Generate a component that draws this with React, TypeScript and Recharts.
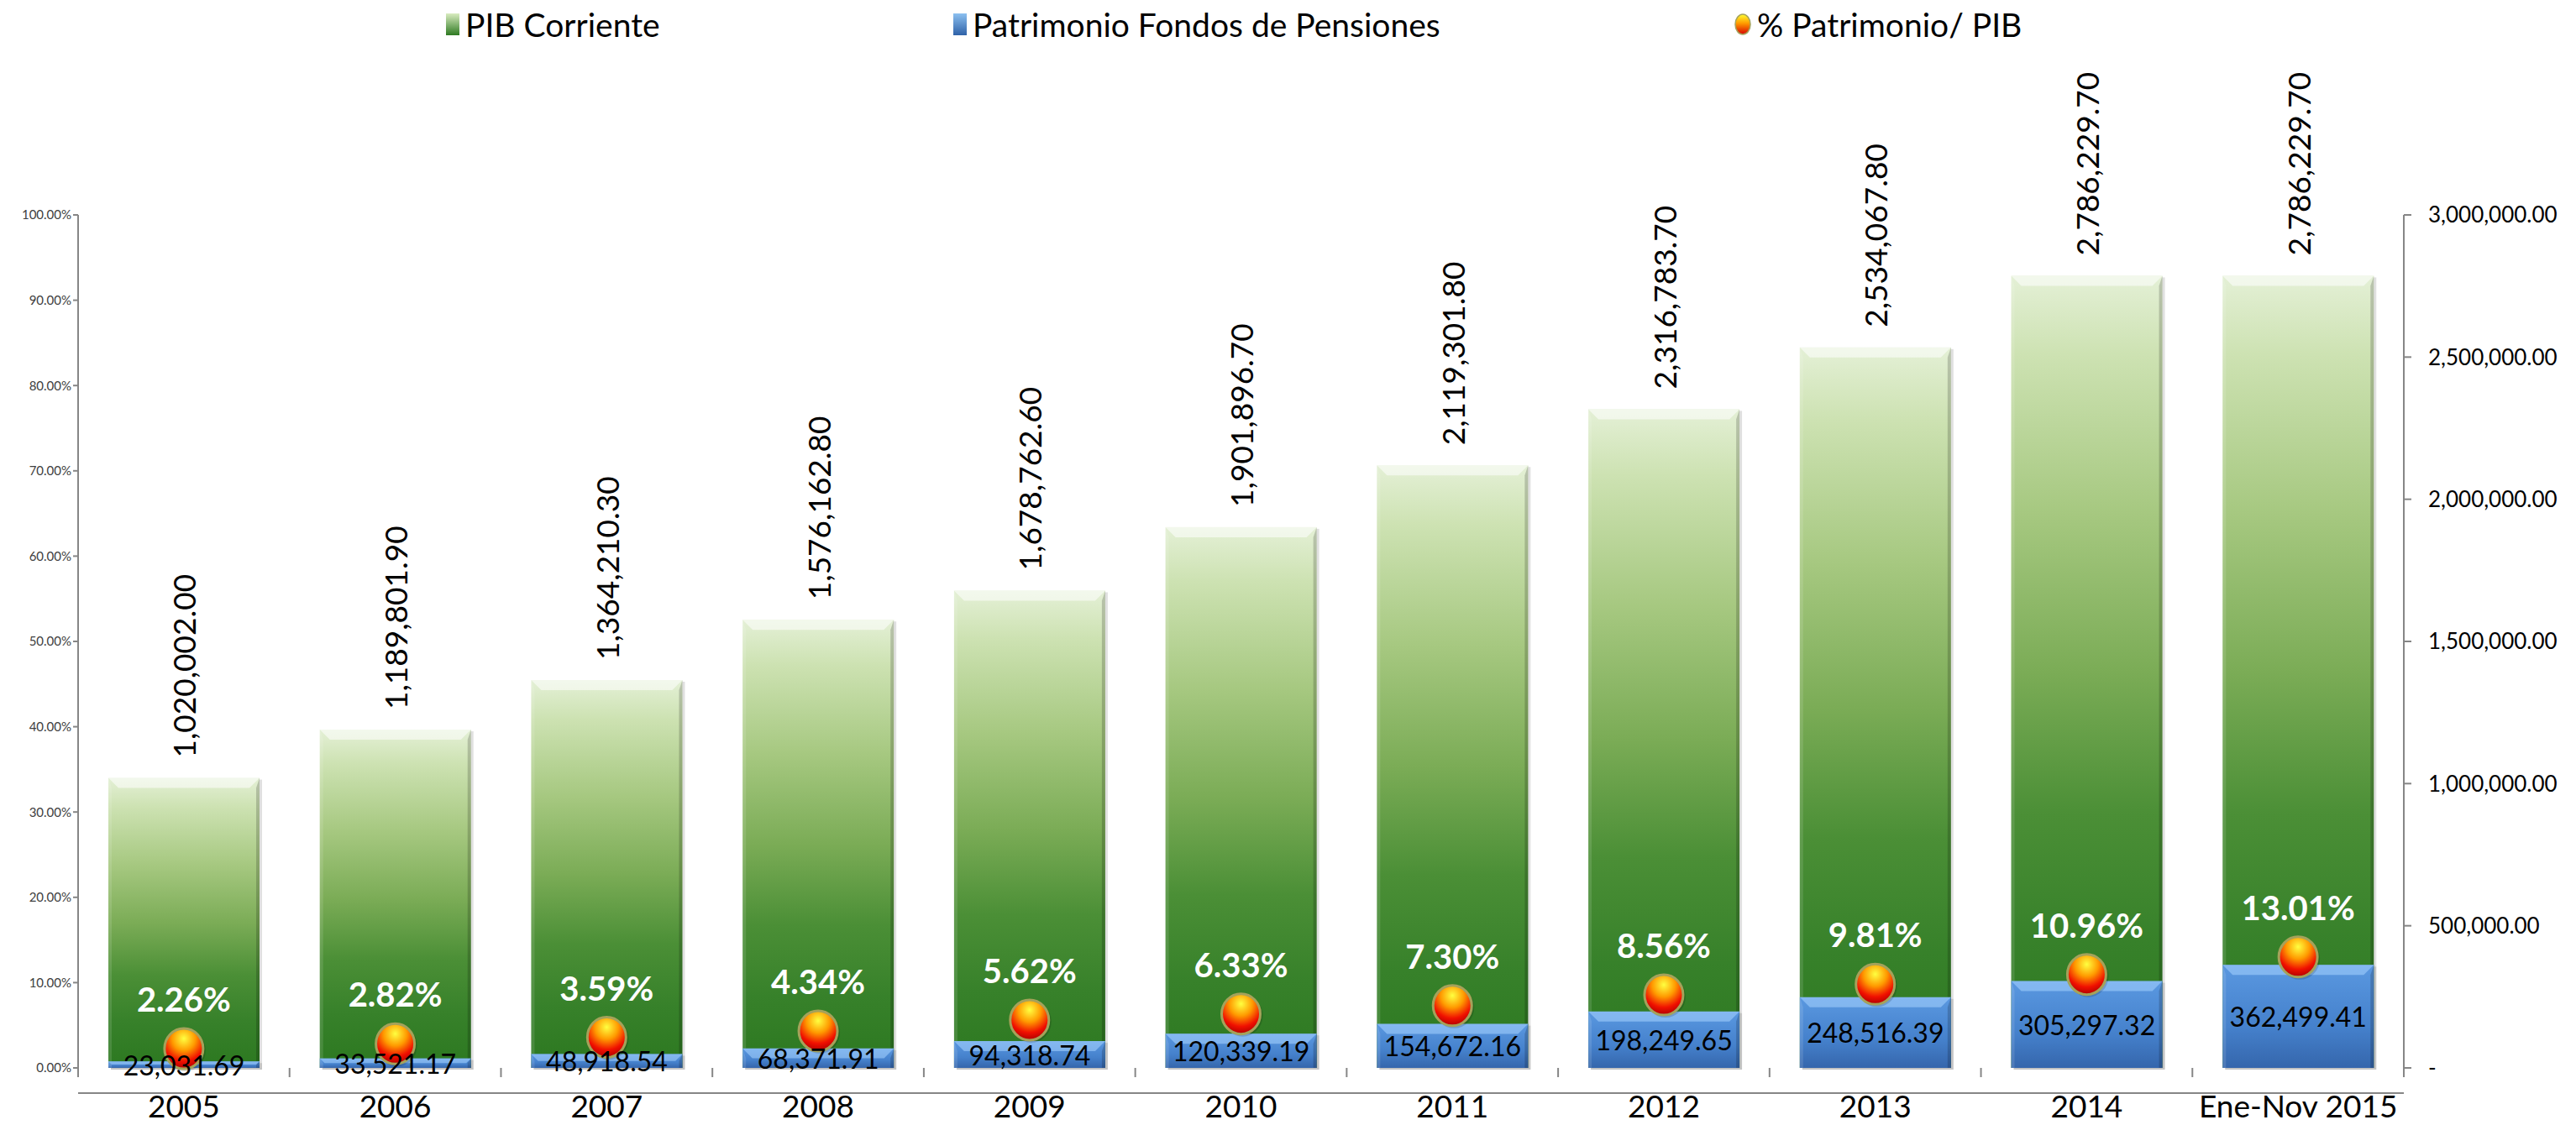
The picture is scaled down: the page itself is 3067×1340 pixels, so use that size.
import React from "react";
import {
  ComposedChart,
  Bar,
  Line,
  XAxis,
  YAxis,
  LabelList,
} from "recharts";

const categories = [
  "2005",
  "2006",
  "2007",
  "2008",
  "2009",
  "2010",
  "2011",
  "2012",
  "2013",
  "2014",
  "Ene-Nov 2015",
];

const pibCorriente = [
  1020002.0, 1189801.9, 1364210.3, 1576162.8, 1678762.6, 1901896.7, 2119301.8,
  2316783.7, 2534067.8, 2786229.7, 2786229.7,
];

const patrimonioFondos = [
  23031.69, 33521.17, 48918.54, 68371.91, 94318.74, 120339.19, 154672.16,
  198249.65, 248516.39, 305297.32, 362499.41,
];

const patrimonioPib = [
  2.26, 2.82, 3.59, 4.34, 5.62, 6.33, 7.3, 8.56, 9.81, 10.96, 13.01,
];

const pctTicks = [0, 10, 20, 30, 40, 50, 60, 70, 80, 90, 100];
const amountTicks = [0, 500000, 1000000, 1500000, 2000000, 2500000, 3000000];

const data = categories.map((cat, i) => ({
  cat,
  pib: pibCorriente[i],
  fondos: patrimonioFondos[i],
  ratio: patrimonioPib[i],
}));

const W = 3067;
const H = 1340;
const PLOT_LEFT = 93;
const PLOT_RIGHT = 2862;
const PLOT_BOTTOM = 1272;
const BAND = (PLOT_RIGHT - PLOT_LEFT) / categories.length;
const FONT = "Lato, 'Noto Sans', sans-serif";

const fmtAmount = (v: number) =>
  v.toLocaleString("en-US", {
    minimumFractionDigits: 2,
    maximumFractionDigits: 2,
  });

const BevelBar = (gradId: string, bevelColor: string) => (props: any) => {
  const { x, y, width, height } = props;
  if (!height || height <= 0) return null;
  const b = Math.min(12, height / 2);
  return (
    <g>
      <rect x={x + 3} y={y + 2} width={width} height={height} fill='#000' opacity={0.12} />
      <rect x={x} y={y} width={width} height={height} fill={`url(#${gradId})`} />
      <polygon
        points={`${x},${y} ${x + width},${y} ${x + width - b},${y + b} ${x + b},${y + b}`}
        fill={bevelColor}
        opacity={0.55}
      />
      <polygon
        points={`${x + width},${y} ${x + width},${y + height} ${x + width - 4},${y + height} ${x + width - 4},${y + b}`}
        fill='#000'
        opacity={0.18}
      />
      <polygon
        points={`${x},${y} ${x + 4},${y + b} ${x + 4},${y + height} ${x},${y + height}`}
        fill='#fff'
        opacity={0.12}
      />
    </g>
  );
};

const PibLabel = (props: any) => {
  const { x, y, width, value } = props;
  const cx = x + width / 2;
  const ty = y - 24;
  return (
    <text
      x={cx}
      y={ty}
      transform={`rotate(-90, ${cx}, ${ty})`}
      textAnchor='start'
      dominantBaseline='central'
      fontFamily={FONT}
      fontSize={37}
      fill='#000'
    >
      {fmtAmount(value)}
    </text>
  );
};

const FondosLabel = (props: any) => {
  const { x, y, width, height, value } = props;
  return (
    <text
      x={x + width / 2}
      y={y + height / 2}
      textAnchor='middle'
      dominantBaseline='central'
      fontFamily={FONT}
      fontSize={32}
      fill='#000'
    >
      {fmtAmount(value)}
    </text>
  );
};

const RatioLabel = (props: any) => {
  const { x, y, value } = props;
  return (
    <text
      x={x}
      y={y - 44}
      textAnchor='middle'
      fontFamily={FONT}
      fontWeight={700}
      fontSize={40}
      fill='#fff'
    >
      {value.toFixed(2)}%
    </text>
  );
};

const BallDot = (props: any) => {
  const { cx, cy, index } = props;
  return (
    <g key={`dot-${index}`}>
      <ellipse cx={cx + 2} cy={cy + 2} rx={24} ry={25} fill='#000' opacity={0.15} />
      <ellipse
        cx={cx}
        cy={cy}
        rx={23}
        ry={24}
        fill='url(#ballGrad)'
        stroke='#a5a25a'
        strokeWidth={3}
      />
    </g>
  );
};

const CategoryTick = (props: any) => {
  const { x, payload, index } = props;
  const left = x - BAND / 2;
  return (
    <g>
      <line x1={left} y1={PLOT_BOTTOM} x2={left} y2={PLOT_BOTTOM + 11} stroke='#868686' strokeWidth={2} />
      {index === categories.length - 1 && (
        <line
          x1={x + BAND / 2}
          y1={PLOT_BOTTOM}
          x2={x + BAND / 2}
          y2={PLOT_BOTTOM + 11}
          stroke='#868686'
          strokeWidth={2}
        />
      )}
      <text
        x={x}
        y={PLOT_BOTTOM + 44}
        textAnchor='middle'
        dominantBaseline='central'
        fontFamily={FONT}
        fontSize={37}
        fill='#000'
      >
        {payload.value}
      </text>
    </g>
  );
};

const LegendIcon = ({ kind }: { kind: string }) => {
  if (kind === "ball") {
    return (
      <svg width={22} height={28} style={{ display: "block" }}>
        <defs>
          <linearGradient id='legBall' x1='0' y1='0' x2='0' y2='1'>
            <stop offset='0%' stopColor='#ffff30' />
            <stop offset='45%' stopColor='#ff9a00' />
            <stop offset='100%' stopColor='#d80000' />
          </linearGradient>
        </defs>
        <ellipse cx={11} cy={14} rx={9} ry={12} fill='url(#legBall)' stroke='#a5a25a' strokeWidth={1.5} />
      </svg>
    );
  }
  const top = kind === "green" ? "#d9ecc0" : "#8cc0f0";
  const bottom = kind === "green" ? "#2e7a22" : "#2f62a8";
  const id = `leg-${kind}`;
  return (
    <svg width={18} height={28} style={{ display: "block" }}>
      <defs>
        <linearGradient id={id} x1='0' y1='0' x2='0' y2='1'>
          <stop offset='0%' stopColor={top} />
          <stop offset='100%' stopColor={bottom} />
        </linearGradient>
      </defs>
      <rect x={1} y={1} width={16} height={26} fill={`url(#${id})`} />
    </svg>
  );
};

const legendItems = [
  { label: "PIB Corriente", kind: "green", left: 530 },
  { label: "Patrimonio Fondos de Pensiones", kind: "blue", left: 1134 },
  { label: "% Patrimonio/ PIB", kind: "ball", left: 2064 },
];

export default function App() {
  return (
    <div
      style={{
        position: "absolute",
        left: 0,
        top: 0,
        width: W,
        height: H,
        background: "#fff",
        fontFamily: FONT,
      }}
    >
      {legendItems.map((item) => (
        <div
          key={item.label}
          style={{
            position: "absolute",
            left: item.left,
            top: 7,
            height: 44,
            display: "flex",
            alignItems: "center",
            gap: 6,
            fontSize: 39,
            color: "#000",
            whiteSpace: "nowrap",
          }}
        >
          <LegendIcon kind={item.kind} />
          <span>{item.label}</span>
        </div>
      ))}
      <ComposedChart
        width={W}
        height={H}
        data={data}
        margin={{ top: 256, right: 10, bottom: 8, left: 8 }}
      >
        <defs>
          <linearGradient id='greenGrad' x1='0' y1='0' x2='0' y2='1'>
            <stop offset='0%' stopColor='#e4f0d6' />
            <stop offset='10%' stopColor='#cde2b2' />
            <stop offset='30%' stopColor='#a6c880' />
            <stop offset='50%' stopColor='#7bac56' />
            <stop offset='68%' stopColor='#4b8f36' />
            <stop offset='84%' stopColor='#37812a' />
            <stop offset='100%' stopColor='#2c7820' />
          </linearGradient>
          <linearGradient id='blueGrad' x1='0' y1='0' x2='0' y2='1'>
            <stop offset='0%' stopColor='#5a98e0' />
            <stop offset='60%' stopColor='#4581cc' />
            <stop offset='100%' stopColor='#3566ac' />
          </linearGradient>
          <radialGradient id='ballGrad' cx='50%' cy='25%' r='75%'>
            <stop offset='0%' stopColor='#ffff40' />
            <stop offset='40%' stopColor='#ff9a00' />
            <stop offset='75%' stopColor='#f01000' />
            <stop offset='100%' stopColor='#b00000' />
          </radialGradient>
        </defs>
        <XAxis
          xAxisId='main'
          dataKey='cat'
          height={60}
          interval={0}
          tick={<CategoryTick />}
          tickLine={false}
          axisLine={{ stroke: "#868686", strokeWidth: 2 }}
        />
        <XAxis xAxisId='over' dataKey='cat' hide />
        <XAxis xAxisId='labels' dataKey='cat' hide />
        <YAxis
          yAxisId='pct'
          orientation='left'
          width={85}
          domain={[0, 100]}
          ticks={pctTicks}
          interval={0}
          tickFormatter={(v: number) => `${v.toFixed(2)}%`}
          tick={{ fontSize: 15, fill: "#404040", fontFamily: FONT }}
          tickLine={{ stroke: "#868686", strokeWidth: 2 }}
          tickSize={6}
          axisLine={{ stroke: "#868686", strokeWidth: 2 }}
        />
        <YAxis
          yAxisId='amt'
          orientation='right'
          width={195}
          domain={[0, 3000000]}
          ticks={amountTicks}
          interval={0}
          tickFormatter={(v: number) => (v === 0 ? "-" : fmtAmount(v))}
          tick={{ fontSize: 26, fill: "#000", fontFamily: FONT }}
          tickLine={{ stroke: "#868686", strokeWidth: 2 }}
          tickSize={9}
          tickMargin={20}
          axisLine={{ stroke: "#868686", strokeWidth: 2 }}
        />
        <Bar
          xAxisId='main'
          yAxisId='amt'
          dataKey='pib'
          name='PIB Corriente'
          barSize={180}
          shape={BevelBar("greenGrad", "#ffffff")}
          isAnimationActive={false}
        >
          <LabelList dataKey='pib' content={<PibLabel />} />
        </Bar>
        <Bar
          xAxisId='over'
          yAxisId='amt'
          dataKey='fondos'
          name='Patrimonio Fondos de Pensiones'
          barSize={180}
          shape={BevelBar("blueGrad", "#a8d4ff")}
          isAnimationActive={false}
        />
        <Line
          xAxisId='main'
          yAxisId='pct'
          dataKey='ratio'
          name='% Patrimonio/ PIB'
          stroke='none'
          dot={BallDot}
          activeDot={false}
          isAnimationActive={false}
        >
          <LabelList dataKey='ratio' content={<RatioLabel />} />
        </Line>
        <Bar
          xAxisId='labels'
          yAxisId='amt'
          dataKey='fondos'
          barSize={180}
          fill='none'
          shape={() => null}
          isAnimationActive={false}
          legendType='none'
        >
          <LabelList dataKey='fondos' content={<FondosLabel />} />
        </Bar>
      </ComposedChart>
    </div>
  );
}
